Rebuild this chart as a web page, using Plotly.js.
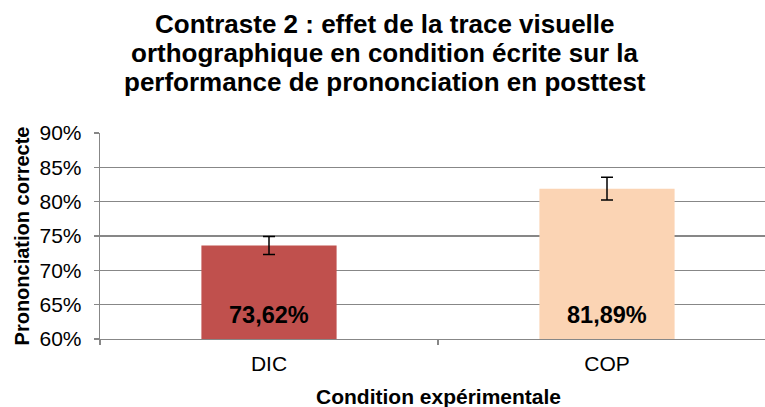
<!DOCTYPE html>
<html>
<head>
<meta charset="utf-8">
<script src="https://cdn.plot.ly/plotly-3.0.1.min.js"></script>
<style>html,body{margin:0;padding:0;background:#fff;}#chart{width:765px;height:407px;}</style>
</head>
<body>
<div id="chart"></div>
<script>
const categories = ["DIC", "COP"];
const values = [0.7362, 0.8189];
const errors = [0.013, 0.0165];
const colors = ["#C0504D", "#FBD4B4"];
const yTickVals = [0.60, 0.65, 0.70, 0.75, 0.80, 0.85, 0.90];
const yTickText = ["60%", "65%", "70%", "75%", "80%", "85%", "90%"];
const titleLines = [
  "Contraste 2 : effet de la trace visuelle",
  "orthographique en condition écrite sur la",
  "performance de prononciation en posttest"
];

const FONT = "Liberation Sans, Arial, sans-serif";
const GRID = "#878787";
const PLOT_TOP = 133, PLOT_BOTTOM = 339, PLOT_LEFT = 100, PLOT_W = 665;
const pyToPaper = py => (PLOT_BOTTOM - py) / (PLOT_BOTTOM - PLOT_TOP);
const pxToPaper = px => (px - PLOT_LEFT) / PLOT_W;

const fmt = v => (v * 100).toFixed(2).replace(".", ",") + "%";

const trace = {
  type: "bar",
  x: categories,
  y: values,
  width: 0.4,
  marker: { color: colors, line: { width: 0 } },
  error_y: { type: "data", array: errors, visible: true, color: "#000", thickness: 1.5, width: 6 },
  hoverinfo: "skip"
};

const annotations = categories.map((c, i) => ({
  x: c, y: 0.6, xref: "x", yref: "y",
  text: "<b>" + fmt(values[i]) + "</b>",
  showarrow: false, yanchor: "middle", yshift: 24,
  font: { family: FONT, size: 23.5, color: "#000" }
}));
annotations.push({
  x: pxToPaper(438), y: pyToPaper(396), xref: "paper", yref: "paper",
  text: "<b>Condition expérimentale</b>", showarrow: false,
  xanchor: "center", yanchor: "middle",
  font: { family: FONT, size: 21, color: "#000" }
});
const titleCenters = [24, 53, 82];
titleLines.forEach((t, i) => annotations.push({
  x: pxToPaper(385), y: pyToPaper(titleCenters[i]), xref: "paper", yref: "paper",
  text: "<b>" + t + "</b>", showarrow: false,
  xanchor: "center", yanchor: "middle",
  font: { family: FONT, size: 26, color: "#000" }
}));

const layout = {
  width: 765, height: 407,
  margin: { l: 100, r: 0, t: 133, b: 68, pad: 0 },
  paper_bgcolor: "#fff", plot_bgcolor: "#fff",
  showlegend: false,
  xaxis: {
    type: "category",
    range: [-0.5, -0.5 + 665 / 338],
    showgrid: false, zeroline: false,
    showline: true, linecolor: GRID, linewidth: 1.3,
    ticks: "outside", tickson: "boundaries", ticklen: 5, tickcolor: GRID, tickwidth: 1.3,
    ticklabelstandoff: 5,
    tickfont: { family: FONT, size: 21, color: "#000" },
    fixedrange: true
  },
  yaxis: {
    range: [0.6, 0.9],
    tickvals: yTickVals, ticktext: yTickText,
    showgrid: true, gridcolor: GRID, gridwidth: 1.3,
    zeroline: false,
    showline: true, linecolor: GRID, linewidth: 1.3,
    ticks: "outside", ticklen: 5, tickcolor: GRID, tickwidth: 1.3,
    ticklabelstandoff: 8,
    tickfont: { family: FONT, size: 21, color: "#000" },
    title: { text: "<b>Prononciation correcte</b>", font: { family: FONT, size: 20, color: "#000" }, standoff: 4 },
    automargin: false,
    fixedrange: true
  },
  annotations: annotations
};

Plotly.newPlot("chart", [trace], layout, { displayModeBar: false, staticPlot: true });
</script>
</body>
</html>
